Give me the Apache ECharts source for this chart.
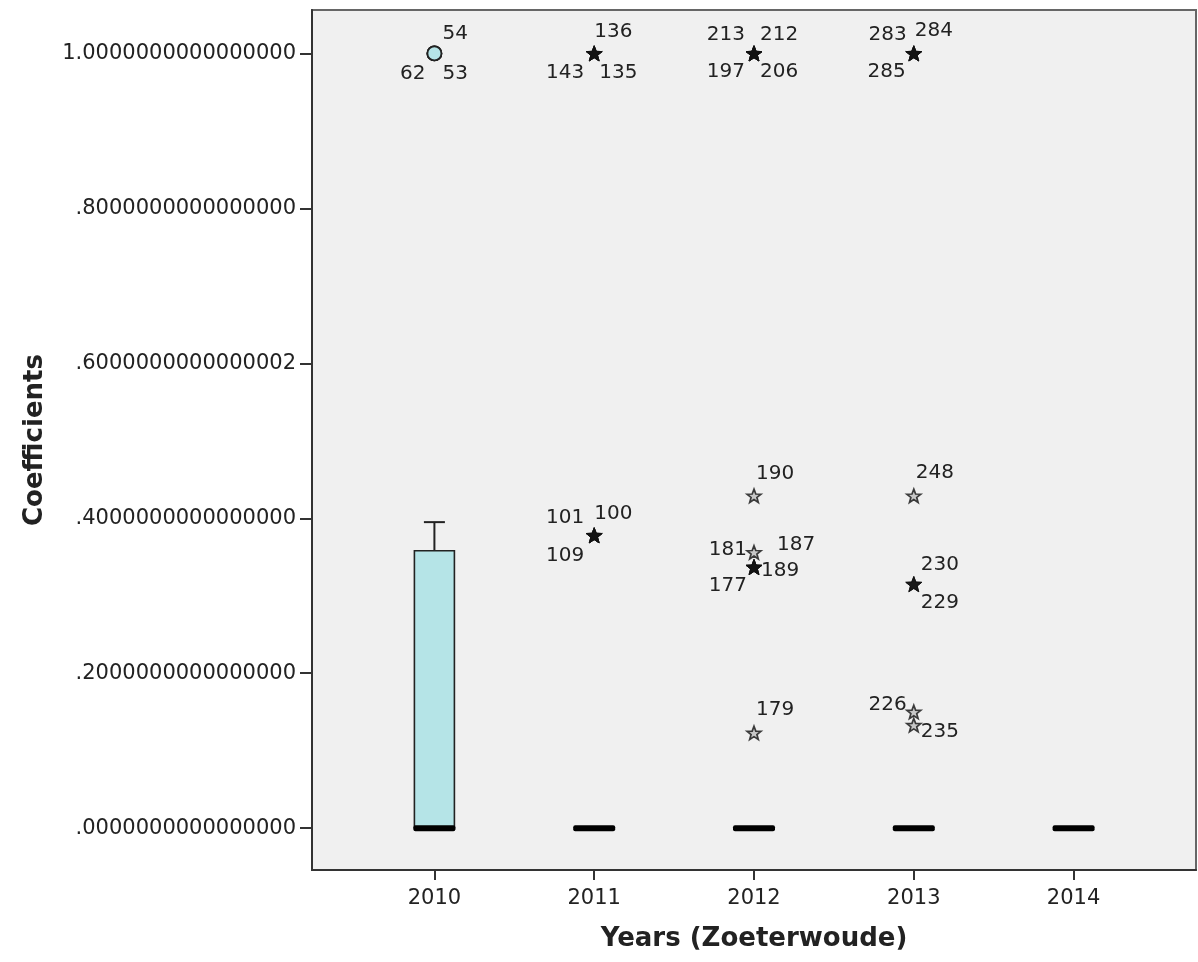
<!DOCTYPE html>
<html><head><meta charset="utf-8">
<script src="https://cdn.jsdelivr.net/npm/echarts@6/dist/echarts.min.js"></script>
<style>html,body{margin:0;padding:0;background:#fff}#c{width:1198px;height:962px}</style>
</head><body><div id="c"></div>
<script>
// ---- data ----
const years = [2010, 2011, 2012, 2013, 2014];
const xTickLabels = ['2010', '2011', '2012', '2013', '2014'];
const yTickValues = [0, 0.2, 0.4, 0.6, 0.8, 1.0];
const yTickLabels = ['.0000000000000000', '.2000000000000000', '.4000000000000000',
                     '.6000000000000002', '.8000000000000000', '1.0000000000000000'];
// box statistics per year
const whiskerLow  = [0, 0, 0, 0, 0];
const q1          = [0, 0, 0, 0, 0];
const median      = [0, 0, 0, 0, 0];
const q3          = [0.358, 0, 0, 0, 0];
const whiskerHigh = [0.395, 0, 0, 0, 0];
// outliers / extremes (case ids)
const outlierIds    = [54, 62, 53,
                       136, 143, 135, 101, 100, 109,
                       213, 212, 197, 206, 190, 181, 187, 189, 177, 179,
                       283, 284, 285, 248, 230, 229, 226, 235];
const outlierYears  = [2010, 2010, 2010,
                       2011, 2011, 2011, 2011, 2011, 2011,
                       2012, 2012, 2012, 2012, 2012, 2012, 2012, 2012, 2012, 2012,
                       2013, 2013, 2013, 2013, 2013, 2013, 2013, 2013];
const outlierValues = [1.0, 1.0, 1.0,
                       1.0, 1.0, 1.0, 0.378, 0.378, 0.378,
                       1.0, 1.0, 1.0, 1.0, 0.429, 0.356, 0.337, 0.337, 0.337, 0.123,
                       1.0, 1.0, 1.0, 0.429, 0.315, 0.315, 0.150, 0.133];
const outlierKind   = ['o', 'o', 'o',
                       'e', 'e', 'e', 'e', 'e', 'e',
                       'e', 'e', 'e', 'e', 'e', 'e', 'e', 'e', 'e', 'e',
                       'e', 'e', 'e', 'e', 'e', 'e', 'e', 'e'];

// ---- label placement (style): [dx, dy, align] relative to the marker ----
const labelPlacement = {
  54: [8, -20, 'left'], 62: [-9, 20, 'right'], 53: [8, 20, 'left'],
  136: [0, -22, 'left'], 143: [-10, 19, 'right'], 135: [5, 19, 'left'],
  101: [-10, -18, 'right'], 100: [0, -22, 'left'], 109: [-10, 20, 'right'],
  213: [-9, -19, 'right'], 212: [6, -19, 'left'], 197: [-9, 18, 'right'], 206: [6, 18, 'left'],
  190: [2, -22, 'left'], 181: [-7, -3, 'right'], 187: [23, -22, 'left'],
  189: [7, 4, 'left'], 177: [-7, 19, 'right'], 179: [2, -23, 'left'],
  283: [-7, -19, 'right'], 284: [1, -23, 'left'], 285: [-8, 18, 'right'],
  248: [2, -23, 'left'], 230: [7, -19, 'left'], 229: [7, 19, 'left'],
  226: [-7, -7, 'right'], 235: [7, 7, 'left']
};

// star symbol geometry
function starPath() {
  const R = 10, r = 4.2, pts = [];
  for (let i = 0; i < 10; i++) {
    const rad = (i % 2 === 0 ? R : r);
    const a = -Math.PI / 2 + i * Math.PI / 5;
    pts.push((10 + rad * Math.cos(a)).toFixed(3) + ' ' + (10 + rad * Math.sin(a)).toFixed(3));
  }
  return 'path://M' + pts.join(' L') + ' Z';
}
const STAR = starPath();

const boxData = years.map((y, i) => [y, whiskerLow[i], q1[i], median[i], q3[i], whiskerHigh[i]]);

// count coincident points
const countMap = {};
outlierYears.forEach((y, i) => { const k = y + '_' + outlierValues[i]; countMap[k] = (countMap[k] || 0) + 1; });

const circleData = [], starData = [], labelData = [];
outlierIds.forEach((id, i) => {
  const pt = [outlierYears[i], outlierValues[i]];
  labelData.push([outlierYears[i], outlierValues[i], i]);
  if (outlierKind[i] === 'o') circleData.push(pt);
  else {
    const multi = countMap[outlierYears[i] + '_' + outlierValues[i]] > 1;
    starData.push({
      value: pt,
      symbolSize: multi ? 16 : 14,
      itemStyle: multi ? { color: '#111', borderColor: '#111', borderWidth: 1 }
                       : { color: '#bdbdbd', borderColor: '#111', borderWidth: 1.7 }
    });
  }
});

const FONT = '"DejaVu Sans", sans-serif';
const chart = echarts.init(document.getElementById('c'), null, { renderer: 'canvas' });
chart.setOption({
  animation: false,
  backgroundColor: '#ffffff',
  grid: { left: 312, top: 10, right: 2, bottom: 92, show: true,
          backgroundColor: '#f0f0f0', borderColor: '#666', borderWidth: 2 },
  xAxis: {
    type: 'value', min: 2009.234, max: 2014.766,
    name: 'Years (Zoeterwoude)', nameLocation: 'middle', nameGap: 56,
    nameTextStyle: { fontFamily: FONT, fontSize: 26, fontWeight: 'bold', color: '#222' },
    axisLine: { show: true, onZero: false, lineStyle: { color: '#333', width: 2 } },
    axisTick: { show: true, customValues: years, length: 10, lineStyle: { color: '#333', width: 2 } },
    axisLabel: { customValues: years, margin: 18, fontFamily: FONT, fontSize: 21, color: '#222',
                 formatter: v => xTickLabels[years.indexOf(Math.round(v))] },
    splitLine: { show: false }
  },
  yAxis: {
    type: 'value', min: -0.054, max: 1.056,
    name: 'Coefficients', nameLocation: 'middle', nameGap: 264, nameRotate: 90,
    nameTextStyle: { fontFamily: FONT, fontSize: 26, fontWeight: 'bold', color: '#222' },
    axisLine: { show: true, onZero: false, lineStyle: { color: '#333', width: 2 } },
    axisTick: { show: true, customValues: yTickValues, length: 12, lineStyle: { color: '#333', width: 2 } },
    axisLabel: { customValues: yTickValues, margin: 16, fontFamily: FONT, fontSize: 21, color: '#222',
                 formatter: v => { const k = yTickValues.findIndex(t => Math.abs(t - v) < 1e-9); return k >= 0 ? yTickLabels[k] : ''; } },
    splitLine: { show: false }
  },
  series: [
    {
      type: 'custom', data: boxData, z: 3,
      renderItem: (params, api) => {
        const x = api.value(0), lo = api.value(1), a = api.value(2), m = api.value(3), b = api.value(4), hi = api.value(5);
        const pA = api.coord([x, a]), pB = api.coord([x, b]), pM = api.coord([x, m]);
        const pLo = api.coord([x, lo]), pHi = api.coord([x, hi]);
        const cx = pM[0], hw = 20, cap = 10.5;
        const ch = [];
        const ls = { stroke: '#222', lineWidth: 2 };
        if (hi > b) {
          ch.push({ type: 'line', shape: { x1: cx, y1: pB[1], x2: cx, y2: pHi[1] }, style: ls });
          ch.push({ type: 'line', shape: { x1: cx - cap, y1: pHi[1], x2: cx + cap, y2: pHi[1] }, style: ls });
        }
        if (lo < a) {
          ch.push({ type: 'line', shape: { x1: cx, y1: pA[1], x2: cx, y2: pLo[1] }, style: ls });
          ch.push({ type: 'line', shape: { x1: cx - cap, y1: pLo[1], x2: cx + cap, y2: pLo[1] }, style: ls });
        }
        if (b > a) {
          ch.push({ type: 'rect', shape: { x: cx - hw, y: pB[1], width: 2 * hw, height: pA[1] - pB[1] },
                    style: { fill: '#b5e4e7', stroke: '#222', lineWidth: 1.6 } });
        }
        ch.push({ type: 'rect', shape: { x: cx - hw - 1, y: pM[1] - 3, width: 2 * hw + 2, height: 6, r: 2 },
                  style: { fill: '#000' } });
        return { type: 'group', children: ch };
      }
    },
    {
      type: 'scatter', data: circleData, symbol: 'circle', symbolSize: 14, z: 4,
      itemStyle: { color: '#b5e4e7', borderColor: '#222', borderWidth: 1.8, opacity: 1 }
    },
    {
      type: 'scatter', data: starData, symbol: STAR, symbolKeepAspect: true, z: 4
    },
    {
      type: 'custom', data: labelData, z: 5,
      renderItem: (params, api) => {
        const p = api.coord([api.value(0), api.value(1)]);
        const id = outlierIds[api.value(2)];
        const pl = labelPlacement[id] || [6, -18, 'left'];
        return { type: 'text', x: p[0] + pl[0], y: p[1] + pl[1],
                 style: { text: String(id), align: pl[2], verticalAlign: 'middle',
                          fontFamily: FONT, fontSize: 20, fill: '#222' } };
      }
    }
  ]
});
</script>
</body></html>
